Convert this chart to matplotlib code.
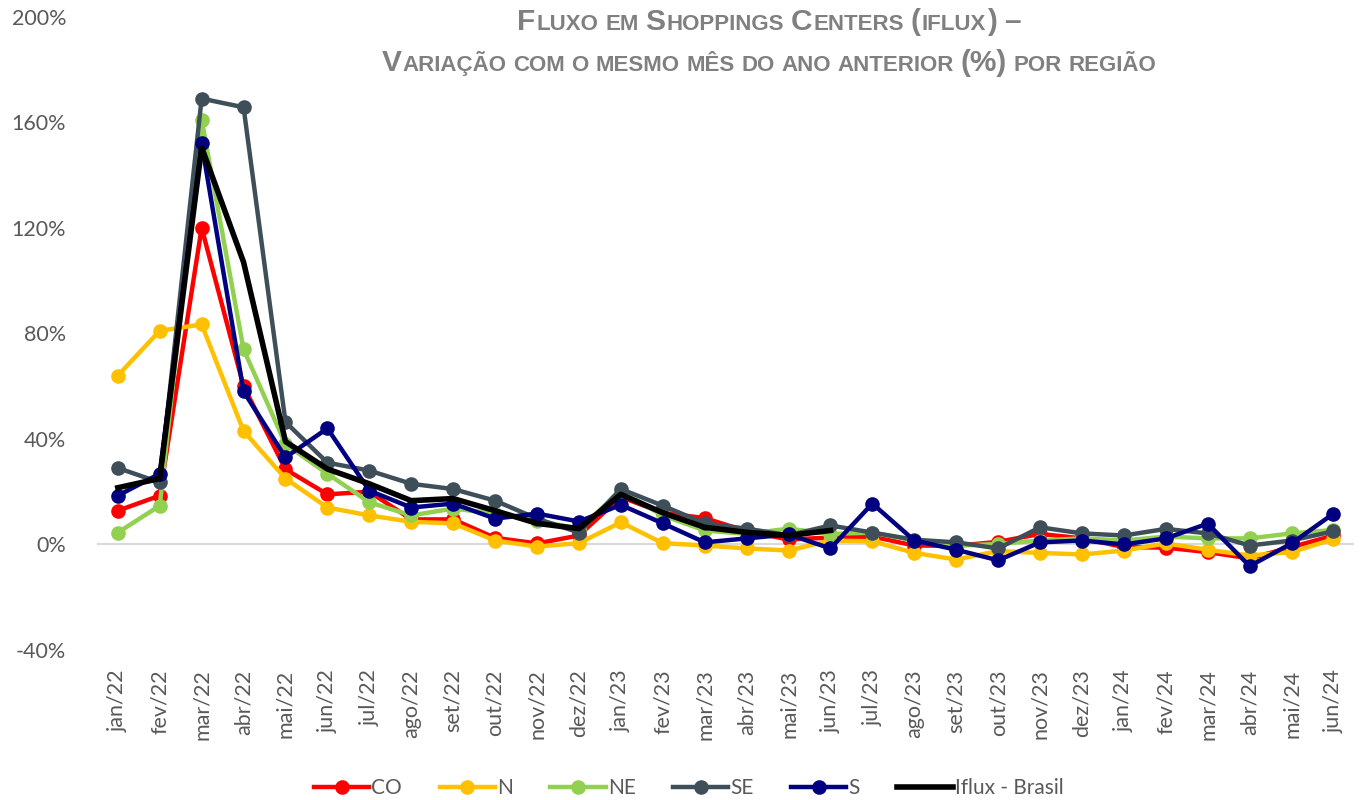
import matplotlib
matplotlib.use("Agg")
import matplotlib.pyplot as plt
from matplotlib.offsetbox import TextArea, HPacker, AnchoredOffsetbox
from matplotlib.ticker import FuncFormatter

# months on the category axis
months = ["jan/22", "fev/22", "mar/22", "abr/22", "mai/22", "jun/22", "jul/22", "ago/22",
          "set/22", "out/22", "nov/22", "dez/22", "jan/23", "fev/23", "mar/23", "abr/23",
          "mai/23", "jun/23", "jul/23", "ago/23", "set/23", "out/23", "nov/23", "dez/23",
          "jan/24", "fev/24", "mar/24", "abr/24", "mai/24", "jun/24"]

# year-on-year change (%) per region
co = [12.8, 18.5, 120, 60, 28.5, 19, 20, 9.5, 9.5, 2.5, 0.4, 3.4, 18, 12, 10, 5,
      1.9, 2.6, 3, -0.4, -0.5, 1, 4, 2.3, -1, -1.2, -2.9, -5.3, -1, 3.4]
n = [64, 81, 83.4, 43, 25, 14, 11, 8.6, 8, 1.5, -0.8, 0.5, 8.4, 0.5, -0.4, -1.5,
     -2.3, 1.5, 1.2, -3.2, -5.7, -2.5, -3.2, -3.8, -2.3, 0.4, -2, -4.2, -2.9, 2]
ne = [4.5, 14.7, 161, 74, 38, 26.8, 16, 11, 13.6, 11.7, 9, 6, 20, 11, 5.3, 4,
      6, 4, 4.5, 1.5, -0.5, 0.2, 1.5, 2.3, 1.5, 3, 2.3, 2.3, 4.2, 5.5]
se = [29, 23.5, 169, 165.7, 46.4, 31, 28, 23, 21, 16.6, 9.8, 4.5, 21, 14.7, 8, 6,
      3.5, 7.2, 4.5, 1.8, 0.8, -1.5, 6.5, 4.2, 3.4, 5.9, 4.2, -0.4, 1.5, 5]
s = [18.5, 26.8, 152, 58, 33, 44, 20.4, 14, 15.5, 9.8, 11.7, 8.7, 15, 8, 0.8, 2.3,
     3.8, -1.5, 15.5, 1.5, -2, -6, 0.8, 1.5, 0, 2.3, 7.9, -8.2, 0.4, 11.7]
# national index only goes up to jun/23
iflux = [21.5, 25, 150.5, 107, 39, 28.6, 23, 16.6, 17.4, 12.8, 8, 6, 19, 12, 6.5, 4.6,
         3.4, 5.3]

gray = "#595959"
title_gray = "#808080"
plt.rcParams["font.family"] = ["Lato", "DejaVu Sans"]

fig = plt.figure(figsize=(13.64, 8), dpi=100)
ax = fig.add_axes([0.071, 0.1875, 0.922, 0.7915])

x = list(range(len(months)))
series = [("CO", co, "#FF0000"), ("N", n, "#FFC000"), ("NE", ne, "#92D050"),
          ("SE", se, "#3F4F5A"), ("S", s, "#000080")]
for name, vals, col in series:
    ax.plot(x, vals, color=col, lw=3.2, marker="o", ms=9.5, label=name,
            solid_joinstyle="round")
ax.plot(x[:len(iflux)], iflux, color="black", lw=4, label="Iflux - Brasil",
        solid_joinstyle="round")

ax.axhline(0, color="#D9D9D9", lw=1.5, zorder=0)
ax.set_xlim(-0.5, len(months) - 0.5)
ax.set_ylim(-40, 200)
ax.set_yticks(range(-40, 201, 40))
ax.yaxis.set_major_formatter(FuncFormatter(lambda v, p: f"{v:.0f}%"))
ax.set_xticks(x)
ax.set_xticklabels(months, rotation=90)
ax.tick_params(axis="both", length=0, colors=gray, labelsize=15.5)
ax.tick_params(axis="y", pad=22)
ax.tick_params(axis="x", pad=14)
for sp in ax.spines.values():
    sp.set_visible(False)


# small caps title: capitals large, the rest as smaller capitals
def small_caps(text, big=21.5, small=16):
    words = []
    for word in text.split(" "):
        runs = []
        cur, cur_size = "", None
        for ch in word:
            size = big if (ch.isupper() or ch in "(%)–") else small
            if size != cur_size and cur:
                runs.append((cur, cur_size))
                cur = ""
            cur += ch.upper()
            cur_size = size
        runs.append((cur, cur_size))
        boxes = [TextArea(t, textprops=dict(color=title_gray, fontsize=sz, fontweight="bold",
                                            family="Liberation Sans"))
                 for t, sz in runs]
        words.append(HPacker(children=boxes, pad=0, sep=0.9, align="baseline"))
    return HPacker(children=words, pad=0, sep=0.3 * small, align="baseline")


line1 = small_caps("Fluxo em Shoppings Centers (iflux) –")
line2 = small_caps("Variação com o mesmo mês do ano anterior (%) por região")
for box, yy in [(line1, 0.973), (line2, 0.921)]:
    anc = AnchoredOffsetbox(loc="center", child=box, frameon=False,
                            bbox_to_anchor=(0.5635, yy), bbox_transform=fig.transFigure,
                            borderpad=0, pad=0)
    fig.add_artist(anc)

leg = fig.legend(loc="center", bbox_to_anchor=(0.505, 0.015), ncol=6, frameon=False,
                 fontsize=15, handlelength=2.65, columnspacing=1.8, handletextpad=0.1)
for t in leg.get_texts():
    t.set_color(gray)

fig.savefig("out.png", dpi=100)
